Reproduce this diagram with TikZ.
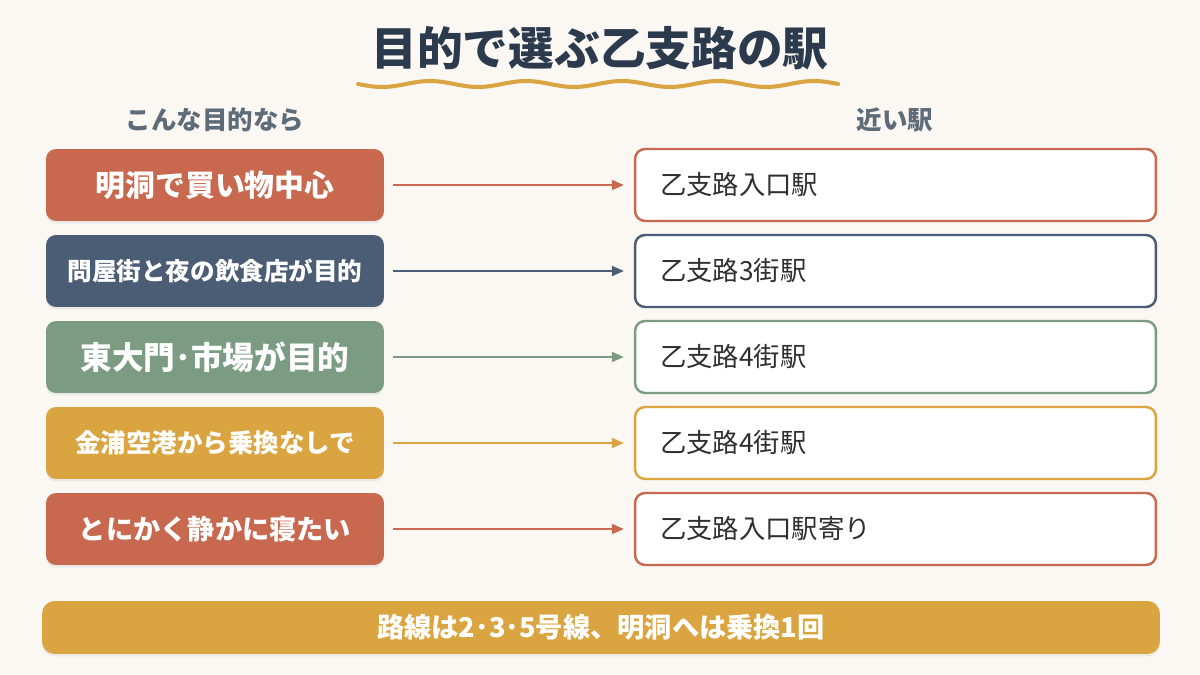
\documentclass[tikz,border=0pt]{standalone}
\usepackage{fontspec}
\setmainfont{Noto Sans CJK JP}
\usepackage{xcolor}
\usetikzlibrary{arrows.meta,positioning,shadows}

\definecolor{paper}{HTML}{FBF7F3}
\definecolor{rowred}{HTML}{C8694F}
\definecolor{rowslate}{HTML}{4A5D74}
\definecolor{rowsage}{HTML}{7B9C83}
\definecolor{rowgold}{HTML}{DAA540}
\definecolor{titleink}{HTML}{2B3A4C}
\definecolor{headgrey}{HTML}{5E6B78}
\definecolor{ink}{HTML}{2F2F2F}

\begin{document}
\begin{tikzpicture}[
  x=0.02cm, y=-0.02cm,
  every node/.style={font=\small},
  goal/.style={rounded corners=0.2cm, minimum width=6.76cm, minimum height=1.44cm,
    text=white, drop shadow={opacity=0.12, shadow xshift=0, shadow yshift=-0.05cm}},
  station/.style={draw, fill=white, line width=1.4pt, rounded corners=0.2cm,
    text width=9.42cm, inner xsep=0.5cm, minimum height=1.44cm, align=left,
    text=ink, font=\fontsize{15}{18}\selectfont},
  head/.style={text=headgrey, font=\bfseries\fontsize{14.5}{17}\selectfont},
  arrow/.style={-{Triangle[length=2.4mm, width=2mm]}, line width=1.1pt}
]

\useasboundingbox (0,0) rectangle (1200,675);
\fill[paper] (0,0) rectangle (1200,675);

% Title
\node[text=titleink, font=\bfseries\fontsize{26}{30}\selectfont] (title) at (600,48) {目的で選ぶ乙支路の駅};
\draw[rowgold, line width=2.3pt, line cap=round]
  plot[domain=358:838, samples=120] (\x, {84+3*sin(3.75*(\x-358))});

% Column heads
\node[head] (headgoal) at (215,120) {こんな目的なら};
\node[head] (headst) at (895,120) {近い駅};

% Rows
\foreach \i/\y/\col/\sz/\goaltext/\sttext in {
  1/185/rowred/17/明洞で買い物中心/乙支路入口駅,
  2/271/rowslate/14/問屋街と夜の飲食店が目的/乙支路3街駅,
  3/357/rowsage/18/東大門･市場が目的/乙支路4街駅,
  4/443/rowgold/14.5/金浦空港から乗換なしで/乙支路4街駅,
  5/529/rowred/15.5/とにかく静かに寝たい/乙支路入口駅寄り}
{
  \node[goal, fill=\col, font=\bfseries\fontsize{\sz}{\sz}\selectfont] (goal\i) at (215,\y) {\goaltext};
  \node[station, draw=\col] (st\i) at (895.5,\y) {\sttext};
  \draw[arrow, \col, shorten <=0.18cm, shorten >=0.2cm] (goal\i) -- (st\i);
}

% Note
\node[fill=rowgold, rounded corners=0.25cm, minimum width=22.36cm, minimum height=1.06cm,
  text=white, font=\bfseries\fontsize{15.5}{18}\selectfont,
  drop shadow={opacity=0.12, shadow xshift=0, shadow yshift=-0.05cm}] (note) at (601,627.5)
  {路線は2･3･5号線、明洞へは乗換1回};

\end{tikzpicture}
\end{document}
